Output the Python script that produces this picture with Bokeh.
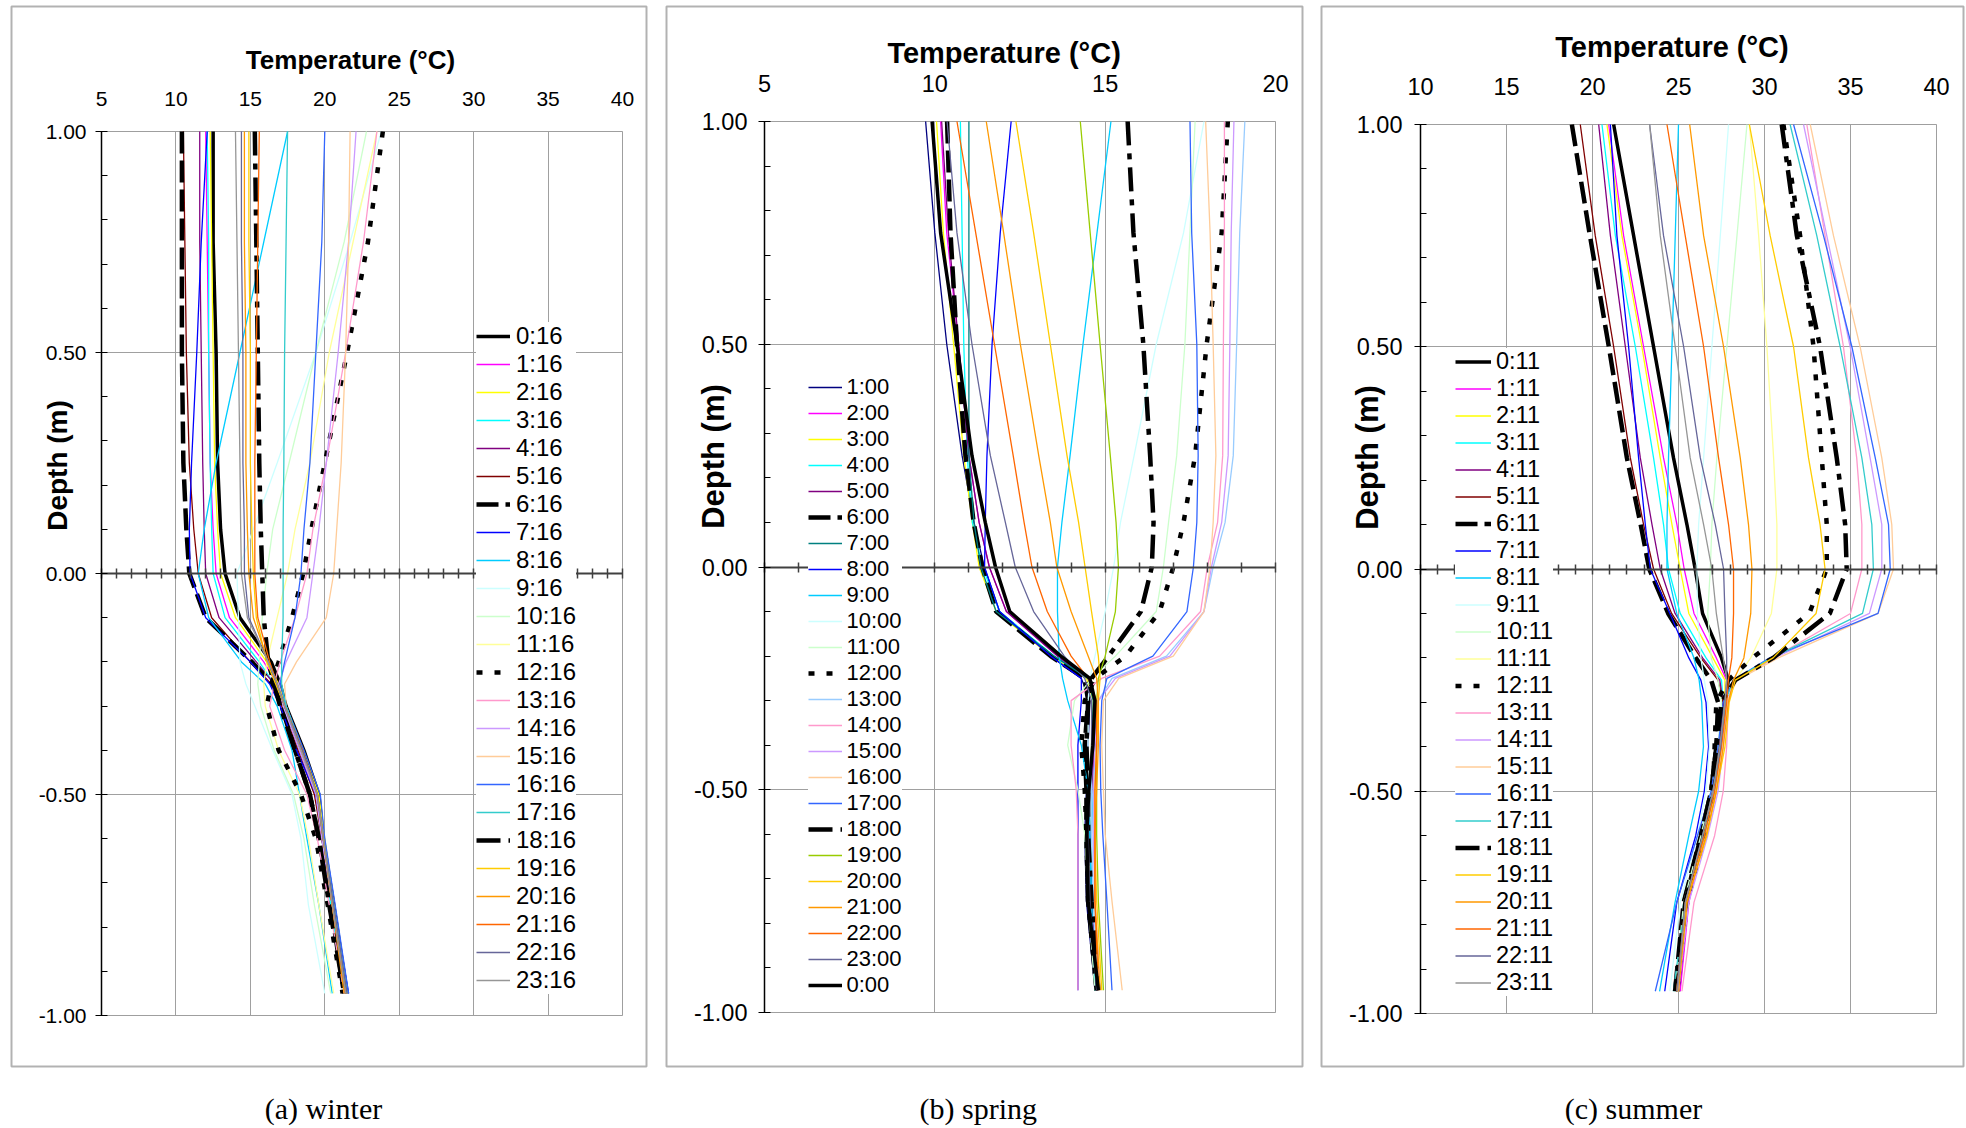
import numpy as np
from bokeh.plotting import figure
from bokeh.models import (Range1d, FixedTicker, NumeralTickFormatter, Legend, LegendItem,
                          Label, BoxAnnotation, LinearAxis)
from bokeh.layouts import row
from bokeh.embed import file_html
from bokeh.resources import INLINE

# ---------------- data ----------------
DEPTH = [1.0, 0.75, 0.5, 0.25, 0.1, 0.0, -0.1, -0.2, -0.25, -0.3, -0.4, -0.5, -0.6, -0.75, -0.95]

WINTER_LABELS = ["%d:16" % h for h in range(24)]
WINTER_TEMPS = [
    [12.5, 12.5, 12.7, 12.8, 13.0, 13.3, 14.3, 16.4, 17.0, 17.4, 18.6, 19.6, 19.9, 20.6, 21.5],
    [12.0, 12.1, 12.2, 12.3, 12.5, 12.7, 13.6, 15.9, 16.8, 17.3, 18.4, 19.5, 19.9, 20.5, 21.4],
    [12.3, 12.4, 12.5, 12.6, 12.8, 13.0, 14.0, 16.1, 16.9, 17.4, 18.5, 19.6, 20.0, 20.6, 21.5],
    [12.1, 12.2, 12.2, 12.3, 12.4, 12.5, 13.3, 15.6, 16.6, 17.2, 18.3, 19.4, 19.8, 20.4, 21.3],
    [11.6, 11.6, 11.7, 11.8, 11.9, 12.0, 12.9, 15.4, 16.6, 17.2, 18.3, 19.4, 19.8, 20.5, 21.4],
    [10.5, 10.6, 10.7, 10.9, 11.2, 11.5, 12.4, 15.0, 16.4, 17.1, 18.2, 19.3, 19.8, 20.5, 21.4],
    [10.4, 10.4, 10.4, 10.5, 10.7, 10.9, 12.0, 15.1, 16.5, 17.1, 18.0, 19.0, 19.6, 20.4, 21.3],
    [12.1, 11.7, 11.4, 11.05, 10.9, 10.95, 12.0, 15.0, 16.3, 17.0, 18.1, 19.4, 19.9, 20.6, 21.6],
    [17.5, 15.9, 14.3, 12.7, 11.9, 11.5, 12.2, 14.4, 16.0, 16.8, 17.8, 18.3, 18.8, 19.6, 20.5],
    [23.8, 21.7, 19.4, 16.8, 15.2, 14.1, 14.2, 14.3, 14.7, 15.3, 16.5, 17.8, 18.4, 18.9, 20.0],
    [22.8, 21.3, 19.4, 17.6, 16.5, 16.1, 15.8, 15.6, 15.5, 15.7, 16.6, 17.9, 18.6, 19.3, 20.4],
    [23.5, 21.9, 20.3, 19.0, 18.0, 17.5, 16.8, 16.1, 15.9, 16.0, 16.9, 18.3, 18.9, 19.6, 20.6],
    [23.9, 22.9, 21.5, 20.0, 19.1, 18.55, 17.8, 16.9, 16.4, 16.1, 16.9, 18.4, 19.4, 20.2, 21.2],
    [23.5, 22.6, 21.4, 20.1, 19.2, 18.8, 18.0, 17.0, 16.6, 16.3, 17.3, 18.8, 19.5, 20.3, 21.3],
    [22.1, 21.6, 20.9, 20.1, 19.6, 19.2, 18.8, 17.4, 16.9, 17.2, 18.3, 19.4, 19.8, 20.5, 21.4],
    [21.7, 21.6, 21.4, 21.1, 20.8, 20.6, 20.1, 18.1, 17.3, 17.4, 18.4, 19.5, 19.9, 20.6, 21.5],
    [20.0, 19.8, 19.4, 19.0, 18.6, 18.4, 18.0, 17.3, 17.0, 17.4, 18.6, 19.7, 20.0, 20.7, 21.6],
    [17.5, 17.4, 17.3, 17.25, 17.2, 17.2, 17.2, 17.1, 17.1, 17.4, 18.5, 19.5, 19.9, 20.6, 21.5],
    [15.3, 15.4, 15.5, 15.6, 15.7, 15.8, 15.9, 16.2, 16.6, 17.0, 18.0, 19.0, 19.6, 20.3, 21.3],
    [14.9, 14.9, 15.0, 15.0, 15.1, 15.2, 15.4, 16.1, 16.7, 17.3, 18.5, 19.5, 19.9, 20.5, 21.4],
    [14.6, 14.6, 14.7, 14.7, 14.8, 14.9, 15.2, 16.2, 16.8, 17.3, 18.5, 19.5, 19.9, 20.5, 21.3],
    [15.6, 15.5, 15.4, 15.3, 15.3, 15.3, 15.5, 16.3, 16.8, 17.3, 18.5, 19.5, 19.9, 20.5, 21.4],
    [14.4, 14.4, 14.5, 14.5, 14.6, 14.6, 14.9, 16.2, 16.8, 17.3, 18.5, 19.5, 19.9, 20.6, 21.5],
    [14.0, 14.1, 14.2, 14.3, 14.35, 14.4, 14.8, 16.2, 16.8, 17.3, 18.4, 19.5, 19.9, 20.5, 21.4],
]

SPRING_LABELS = ["%d:00" % h for h in list(range(1, 24)) + [0]]
SPRING_TEMPS = [
    [9.73, 10.0, 10.35, 10.8, 11.15, 11.45, 11.9, 13.4, 14.3, 14.55, 14.5, 14.45, 14.4, 14.45, 14.7],
    [10.17, 10.35, 10.7, 11.0, 11.3, 11.6, 12.1, 13.6, 14.5, 14.7, 14.65, 14.6, 14.55, 14.6, 14.75],
    [10.05, 10.25, 10.55, 10.85, 11.1, 11.3, 11.8, 13.4, 14.45, 14.65, 14.6, 14.55, 14.5, 14.55, 14.7],
    [10.75, 10.8, 10.85, 10.95, 11.1, 11.4, 11.9, 13.5, 14.5, 14.7, 14.7, 14.65, 14.6, 14.6, 14.7],
    [10.2, 10.4, 10.7, 11.0, 11.3, 11.6, 12.1, 13.6, 14.5, 14.7, 14.7, 14.6, 14.55, 14.6, 14.75],
    [10.36, 10.46, 10.65, 10.9, 11.14, 11.39, 11.8, 13.4, 14.4, 14.5, 14.4, 14.45, 14.45, 14.5, 14.75],
    [11.0, 11.0, 11.0, 11.0, 11.15, 11.35, 11.8, 13.5, 14.5, 14.65, 14.6, 14.6, 14.55, 14.6, 14.7],
    [12.24, 11.92, 11.68, 11.53, 11.48, 11.46, 11.9, 13.4, 14.3, 14.3, 14.2, 14.2, 14.2, 14.2, 14.2],
    [15.17, 14.76, 14.35, 13.97, 13.73, 13.6, 13.6, 13.65, 13.75, 13.9, 14.3, 14.5, 14.55, 14.6, 14.7],
    [17.9, 17.3, 16.5, 15.85, 15.45, 15.25, 15.0, 14.7, 14.55, 14.5, 14.5, 14.55, 14.6, 14.65, 14.8],
    [17.64, 17.49, 17.34, 17.1, 16.86, 16.71, 16.5, 15.3, 14.6, 14.1, 13.9, 14.2, 14.4, 14.5, 14.7],
    [18.6, 18.42, 17.98, 17.64, 17.3, 17.0, 16.6, 15.6, 14.7, 14.4, 14.3, 14.4, 14.45, 14.5, 14.75],
    [19.1, 18.95, 18.86, 18.76, 18.52, 18.17, 17.9, 16.8, 15.2, 14.8, 14.6, 14.6, 14.6, 14.65, 14.8],
    [18.5, 18.5, 18.47, 18.45, 18.3, 18.0, 17.8, 16.6, 14.9, 14.0, 14.0, 14.15, 14.2, 14.2, 14.2],
    [18.78, 18.7, 18.66, 18.61, 18.42, 18.12, 17.9, 16.9, 15.3, 14.8, 14.7, 14.65, 14.65, 14.7, 14.85],
    [17.95, 18.08, 18.17, 18.25, 18.17, 18.08, 17.9, 17.0, 15.4, 14.95, 14.9, 14.95, 15.0, 15.2, 15.5],
    [17.49, 17.54, 17.69, 17.73, 17.69, 17.59, 17.4, 16.4, 15.05, 14.9, 14.85, 14.87, 14.93, 15.05, 15.2],
    [15.66, 15.83, 16.12, 16.32, 16.42, 16.37, 16.05, 15.1, 14.6, 14.5, 14.45, 14.5, 14.5, 14.6, 14.8],
    [14.27, 14.56, 14.85, 15.15, 15.32, 15.39, 15.3, 15.0, 14.8, 14.75, 14.75, 14.75, 14.75, 14.8, 14.95],
    [12.38, 12.9, 13.39, 13.88, 14.22, 14.41, 14.6, 14.8, 14.85, 14.8, 14.75, 14.7, 14.7, 14.75, 14.9],
    [11.51, 12.02, 12.51, 13.05, 13.39, 13.58, 14.0, 14.5, 14.75, 14.8, 14.8, 14.75, 14.7, 14.7, 14.85],
    [10.65, 11.2, 11.75, 12.3, 12.62, 12.85, 13.3, 14.0, 14.5, 14.75, 14.75, 14.7, 14.7, 14.7, 14.8],
    [10.36, 10.65, 11.09, 11.63, 12.07, 12.36, 12.9, 13.8, 14.4, 14.6, 14.6, 14.55, 14.5, 14.55, 14.75],
    [9.92, 10.17, 10.65, 11.09, 11.48, 11.78, 12.2, 13.7, 14.55, 14.7, 14.64, 14.52, 14.46, 14.5, 14.8],
]

SUMMER_LABELS = ["%d:11" % h for h in range(24)]
SUMMER_TEMPS = [
    [21.23, 22.39, 23.55, 24.71, 25.49, 25.97, 26.4, 27.5, 27.9, 27.7, 27.4, 27.0, 26.4, 25.5, 25.0],
    [20.94, 21.81, 22.97, 24.13, 24.91, 25.33, 25.9, 27.2, 27.8, 27.7, 27.45, 27.05, 26.5, 25.6, 25.1],
    [20.84, 21.71, 22.87, 23.94, 24.62, 25.1, 25.6, 27.0, 27.7, 27.7, 27.4, 27.0, 26.45, 25.5, 25.0],
    [20.55, 21.33, 22.49, 23.55, 24.13, 24.42, 25.1, 26.6, 27.5, 27.6, 27.35, 26.9, 26.3, 25.3, 24.8],
    [20.36, 21.04, 21.91, 22.78, 23.46, 23.94, 24.8, 26.4, 27.4, 27.6, 27.35, 26.95, 26.4, 25.4, 24.9],
    [19.29, 20.16, 21.23, 22.2, 22.97, 23.55, 24.6, 26.3, 27.3, 27.6, 27.35, 26.95, 26.4, 25.4, 24.9],
    [18.8, 19.85, 20.95, 22.0, 22.8, 23.3, 24.4, 26.0, 26.9, 27.3, 27.2, 26.9, 26.3, 25.3, 24.8],
    [21.04, 21.42, 22.1, 22.68, 23.07, 23.36, 24.5, 25.6, 26.3, 26.6, 26.75, 26.5, 26.0, 24.9, 24.2],
    [25.0, 24.81, 24.62, 24.42, 24.33, 24.33, 24.9, 25.9, 26.2, 26.35, 26.45, 26.17, 25.6, 24.8, 23.9],
    [27.91, 27.43, 26.94, 26.46, 26.17, 26.07, 26.1, 26.3, 26.5, 26.7, 26.8, 26.6, 26.1, 25.1, 24.5],
    [28.98, 28.4, 27.81, 27.23, 26.94, 26.85, 26.7, 26.9, 27.3, 27.5, 27.3, 26.9, 26.3, 25.3, 24.8],
    [29.12, 29.66, 30.14, 30.53, 30.72, 30.72, 30.4, 29.2, 28.3, 27.9, 27.5, 27.1, 26.5, 25.5, 25.0],
    [31.1, 32.07, 32.85, 33.33, 33.62, 33.62, 32.6, 29.3, 27.9, 27.2, 27.1, 27.0, 26.5, 25.5, 24.9],
    [32.46, 33.52, 34.59, 35.36, 35.66, 35.66, 35.0, 30.5, 28.3, 27.9, 27.8, 27.6, 27.1, 25.9, 25.2],
    [32.27, 33.62, 34.98, 36.14, 36.82, 36.82, 36.1, 30.6, 28.3, 27.8, 27.6, 27.3, 26.7, 25.6, 25.0],
    [32.66, 34.01, 35.56, 36.82, 37.4, 37.5, 36.6, 30.8, 28.4, 27.8, 27.5, 27.2, 26.6, 25.5, 24.9],
    [31.69, 33.43, 35.08, 36.44, 37.21, 37.31, 36.6, 30.3, 28.2, 27.6, 27.3, 26.9, 26.1, 24.9, 23.65],
    [31.49, 33.04, 34.4, 35.66, 36.24, 36.33, 35.7, 30.4, 28.2, 27.7, 27.45, 27.1, 26.5, 25.4, 24.7],
    [31.0, 31.88, 33.23, 34.2, 34.69, 34.78, 33.8, 30.5, 28.3, 27.5, 27.2, 26.9, 26.3, 25.4, 24.8],
    [29.12, 30.33, 31.69, 32.56, 33.23, 33.52, 33.0, 30.5, 28.3, 27.95, 27.7, 27.2, 26.65, 25.45, 24.9],
    [25.65, 26.46, 27.62, 28.59, 29.07, 29.27, 29.2, 28.8, 28.2, 27.9, 27.6, 27.2, 26.6, 25.5, 25.0],
    [24.33, 25.39, 26.46, 27.33, 27.91, 28.2, 28.2, 28.1, 27.9, 27.8, 27.5, 27.1, 26.5, 25.4, 24.9],
    [23.32, 24.13, 25.3, 26.27, 27.14, 27.62, 27.7, 27.8, 27.8, 27.7, 27.45, 27.0, 26.4, 25.4, 24.9],
    [23.32, 23.94, 24.81, 25.68, 26.46, 26.94, 27.2, 27.6, 27.8, 27.7, 27.4, 27.0, 26.4, 25.4, 24.95],
]

X_TICKS_A = [5, 10, 15, 20, 25, 30, 35, 40]
X_TICKS_B = [5, 10, 15, 20]
X_TICKS_C = [10, 15, 20, 25, 30, 35, 40]
Y_TICKS = [-1.0, -0.5, 0.0, 0.5, 1.0]
Y_MINOR = [-0.9, -0.8, -0.7, -0.6, -0.4, -0.3, -0.2, -0.1, 0.1, 0.2, 0.3, 0.4, 0.6, 0.7, 0.8, 0.9]

PALETTE_WS = ["black", "#FF00FF", "#FFFF00", "#00FFFF", "#800080", "#800000", "black", "#0000FF",
              "#00CCFF", "#CCFFFF", "#CCFFCC", "#FFFF99", "black", "#FF99CC", "#CC99FF", "#FFCC99",
              "#3366FF", "#33CCCC", "black", "#FFCC00", "#FF9900", "#FF6600", "#666699", "#969696"]
PALETTE_SP = ["#000080", "#FF00FF", "#FFFF00", "#00FFFF", "#800080", "black", "#008080", "#0000FF",
              "#00CCFF", "#CCFFFF", "#CCFFCC", "black", "#99CCFF", "#FF99CC", "#CC99FF", "#FFCC99",
              "#3366FF", "black", "#99CC00", "#FFCC00", "#FF9900", "#FF6600", "#666699", "black"]

BLACK_STYLE = {0: (3.5, "solid"), 6: (4.5, "22 7"), 12: (4.5, "6 12"), 18: (4.5, "24 8 6 8")}

SANS = "Liberation Sans"
SERIF = "Liberation Serif"
CANVAS_H = 1128
GRID_COLOR = "#a0a0a0"

# layout (canvas pixels of each panel): frame left/width/top/height, boxes, texts, legend
# leg = (glyph left, bottom offset, font size, row height, glyph width, label standoff)
PANELS = [
    dict(w=656, fl=101, fw=521, ft=131, fh=884, xr=(5, 40), xt=X_TICKS_A, tfs="21px", xstand=26, ystand=9,
         box=(11, 646, 6, 1066), title=(350, 59, "26px"), depth=(57, 465, "28px"),
         cap=(323, 1108, "(a) winter"), leg=(476, 134, "24px", 28, 34, 6),
         labels=WINTER_LABELS, temps=WINTER_TEMPS, pal=PALETTE_WS),
    dict(w=657, fl=108, fw=511, ft=121, fh=891, xr=(5, 20), xt=X_TICKS_B, tfs="23.5px", xstand=30, ystand=11,
         box=(10, 646, 6, 1066), title=(347.6, 52, "29px"), depth=(56.6, 456, "31px"),
         cap=(321.8, 1108, "(b) spring"), leg=(151.5, 130, "22px", 26, 34, 5),
         labels=SPRING_LABELS, temps=SPRING_TEMPS, pal=PALETTE_SP),
    dict(w=653, fl=107, fw=516, ft=124, fh=889, xr=(10, 40), xt=X_TICKS_C, tfs="23.5px", xstand=30, ystand=12,
         box=(8, 650, 6, 1066), title=(358.5, 46, "29px"), depth=(54, 457, "31px"),
         cap=(320, 1108, "(c) summer"), leg=(142, 132, "23.5px", 27, 36, 5),
         labels=SUMMER_LABELS, temps=SUMMER_TEMPS, pal=PALETTE_WS),
]


def make_panel(c):
    x0, x1 = c["xr"]
    W, H = c["w"], CANVAS_H
    fl, fw, ft, fh = c["fl"], c["fw"], c["ft"], c["fh"]
    sx = fw / (x1 - x0)
    sy = fh / 2.0

    def X(cx):
        return x0 + (cx - fl) / sx

    def Y(cy):
        return 1.0 - (cy - ft) / sy

    # the frame covers the whole canvas; the data area sits where the reference has it
    p = figure(frame_width=W, frame_height=H, x_range=Range1d(X(0), X(W)), y_range=Range1d(Y(H), Y(0)),
               x_axis_location="above", y_axis_location="left", output_backend="svg",
               toolbar_location=None, min_border=0)
    p.background_fill_color = "white"
    p.border_fill_color = "white"
    p.outline_line_color = None

    xa = p.xaxis[0]
    xa.fixed_location = 1.0
    xa.ticker = FixedTicker(ticks=c["xt"])
    xa.bounds = (x0, x1)
    xa.major_tick_in = 0
    xa.major_tick_out = 0
    xa.minor_tick_in = 0
    xa.minor_tick_out = 0
    xa.axis_line_color = None
    xa.major_label_text_font = SANS
    xa.major_label_text_font_size = c["tfs"]
    xa.major_label_text_color = "black"
    xa.major_label_standoff = c["xstand"]

    ya = p.yaxis[0]
    ya.fixed_location = x0
    ya.ticker = FixedTicker(ticks=Y_TICKS, minor_ticks=Y_MINOR)
    ya.formatter = NumeralTickFormatter(format="0.00")
    ya.bounds = (-1, 1)
    ya.major_tick_in = 6
    ya.major_tick_out = 6
    ya.minor_tick_in = 6
    ya.minor_tick_out = 0
    ya.axis_line_color = "black"
    ya.axis_line_width = 1.5
    ya.major_tick_line_color = "black"
    ya.minor_tick_line_color = "black"
    ya.major_label_text_font = SANS
    ya.major_label_text_font_size = c["tfs"]
    ya.major_label_text_color = "black"
    ya.major_label_standoff = c["ystand"]

    # grid lines restricted to the plot area
    try:
        p.xgrid.bounds = (x0, x1)
        p.xgrid.cross_bounds = (-1, 1)
        p.ygrid.bounds = (-1, 1)
        p.ygrid.cross_bounds = (x0, x1)
        p.xgrid.grid_line_color = GRID_COLOR
        p.ygrid.grid_line_color = GRID_COLOR
        p.xgrid.grid_line_width = 1
        p.ygrid.grid_line_width = 1
    except AttributeError:
        p.xgrid.visible = False
        p.ygrid.visible = False
        xt = c["xt"]
        p.segment(x0=xt, y0=[-1] * len(xt), x1=xt, y1=[1] * len(xt),
                  line_color=GRID_COLOR, line_width=1, level="underlay")
        p.segment(x0=[x0] * len(Y_TICKS), y0=Y_TICKS, x1=[x1] * len(Y_TICKS), y1=Y_TICKS,
                  line_color=GRID_COLOR, line_width=1, level="underlay")

    # gray plot-area border
    p.add_layout(BoxAnnotation(left=x0, right=x1, bottom=-1, top=1, fill_alpha=0,
                               line_color=GRID_COLOR, line_width=1, level="underlay"))

    # horizontal axis at depth 0 with crossing tick marks
    zero_axis = LinearAxis(fixed_location=0.0, ticker=FixedTicker(ticks=list(range(x0, x1 + 1))),
                           bounds=(x0, x1), axis_line_color="#404040", axis_line_width=2,
                           major_tick_in=5, major_tick_out=5, major_tick_line_color="#404040",
                           major_tick_line_width=1.5, minor_tick_in=0, minor_tick_out=0,
                           major_label_text_alpha=0, major_label_text_font_size="1px")
    p.add_layout(zero_axis, "below")

    items = []
    for lab, temps, col in zip(c["labels"], c["temps"], c["pal"]):
        hour = int(lab.split(":")[0])
        if col == "black":
            lw, dash = BLACK_STYLE[hour]
        else:
            lw, dash = 1.3, "solid"
        r = p.line(x=temps, y=DEPTH, line_color=col, line_width=lw, line_dash=dash)
        items.append(LegendItem(label=lab, renderers=[r]))

    lx, ly, lfs, rowh, gw, stand = c["leg"]
    leg = Legend(items=items, location=(lx, ly), orientation="vertical",
                 label_text_font=SANS, label_text_font_size=lfs, label_text_color="black",
                 label_text_line_height=1.0,
                 glyph_width=gw, glyph_height=rowh, label_height=rowh, label_standoff=stand,
                 spacing=0, padding=8, margin=0, border_line_color=None,
                 background_fill_color="white", background_fill_alpha=1.0)
    p.add_layout(leg)

    bl, br, bt, bb = c["box"]
    p.add_layout(BoxAnnotation(left=X(bl), right=X(br), top=Y(bt), bottom=Y(bb),
                               fill_alpha=0, line_color="black", line_width=2, level="underlay"))

    tx, ty, tfs = c["title"]
    p.add_layout(Label(x=X(tx), y=Y(ty), text="Temperature (\u00b0C)", text_align="center",
                       text_baseline="middle", text_font=SANS, text_font_style="bold",
                       text_font_size=tfs, text_color="black"))
    dx, dy, dfs = c["depth"]
    p.add_layout(Label(x=X(dx), y=Y(dy), text="Depth (m)", text_align="center",
                       text_baseline="middle", angle=np.pi / 2, text_font=SANS,
                       text_font_style="bold", text_font_size=dfs, text_color="black"))
    cx, cy, ctext = c["cap"]
    p.add_layout(Label(x=X(cx), y=Y(cy), text=ctext, text_align="center", text_baseline="middle",
                       text_font=SERIF, text_font_size="30px", text_color="black"))
    return p


figs = [make_panel(c) for c in PANELS]
layout = row(*figs, spacing=0)
open("out.html", "w").write(file_html(layout, INLINE))
